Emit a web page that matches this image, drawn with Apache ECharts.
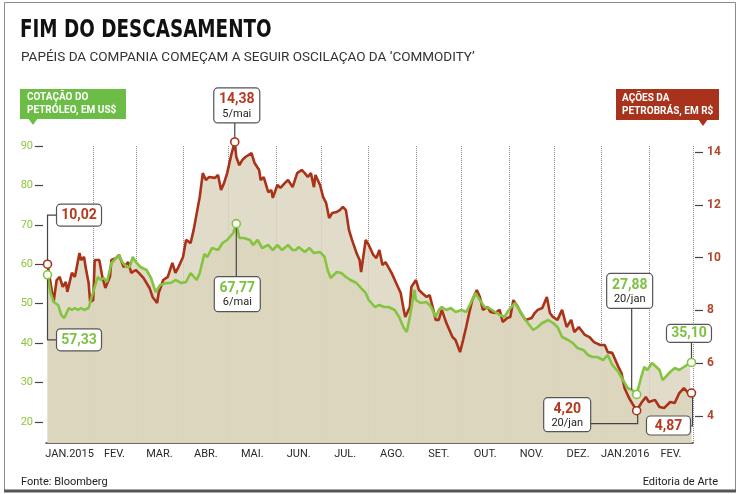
<!DOCTYPE html>
<html><head><meta charset="utf-8">
<script src="https://cdn.jsdelivr.net/npm/echarts@6/dist/echarts.min.js"></script>
<style>html,body{margin:0;padding:0;background:#fff}#c{width:740px;height:494px}</style>
</head><body><div id="c"></div>
<script>
const monthLabels = ['JAN.2015','FEV.','MAR.','ABR.','MAI.','JUN.','JUL.','AGO.','SET.','OUT.','NOV.','DEZ.','JAN.2016','FEV.'];
const leftTicks = [20,30,40,50,60,70,80,90];
const rightTicks = [4,6,8,10,12,14];

const petroDates = ['2015-01-02','2015-01-06','2015-01-08','2015-01-10','2015-01-12','2015-01-14','2015-01-15','2015-01-18','2015-01-20','2015-01-23','2015-01-24','2015-01-26','2015-01-27','2015-01-29','2015-01-30',
'2015-02-01','2015-02-02','2015-02-05','2015-02-07','2015-02-09','2015-02-12','2015-02-13','2015-02-16','2015-02-18','2015-02-21','2015-02-24','2015-02-26',
'2015-03-01','2015-03-03','2015-03-06','2015-03-10','2015-03-12','2015-03-15','2015-03-16','2015-03-19','2015-03-22','2015-03-25','2015-03-27','2015-03-29',
'2015-04-01','2015-04-03','2015-04-06','2015-04-08','2015-04-12','2015-04-14','2015-04-16','2015-04-18','2015-04-22','2015-04-24','2015-04-26','2015-04-28','2015-04-30',
'2015-05-03','2015-05-05','2015-05-06','2015-05-08','2015-05-10','2015-05-12','2015-05-16','2015-05-18','2015-05-21','2015-05-22','2015-05-24','2015-05-27','2015-05-29','2015-05-30',
'2015-06-02','2015-06-04','2015-06-07','2015-06-09','2015-06-12','2015-06-15','2015-06-18','2015-06-20','2015-06-22','2015-06-24','2015-06-26','2015-06-27','2015-06-30',
'2015-07-02','2015-07-04','2015-07-06','2015-07-08','2015-07-11','2015-07-13','2015-07-15','2015-07-17','2015-07-19','2015-07-21','2015-07-24','2015-07-26','2015-07-27','2015-07-30',
'2015-08-01','2015-08-04','2015-08-06','2015-08-08','2015-08-10','2015-08-12','2015-08-16','2015-08-19','2015-08-22','2015-08-24','2015-08-25','2015-08-28','2015-08-29',
'2015-09-01','2015-09-03','2015-09-05','2015-09-08','2015-09-10','2015-09-12','2015-09-14','2015-09-16','2015-09-18','2015-09-21','2015-09-23','2015-09-25','2015-09-27','2015-09-30',
'2015-10-02','2015-10-04','2015-10-06','2015-10-08','2015-10-11','2015-10-13','2015-10-15','2015-10-18','2015-10-20','2015-10-23','2015-10-26','2015-10-28','2015-10-31',
'2015-11-02','2015-11-04','2015-11-07','2015-11-09','2015-11-12','2015-11-16','2015-11-18','2015-11-20','2015-11-23','2015-11-26','2015-11-28','2015-11-30',
'2015-12-03','2015-12-06','2015-12-09','2015-12-12','2015-12-14','2015-12-17','2015-12-21','2015-12-24','2015-12-27','2015-12-31',
'2016-01-03','2016-01-05','2016-01-08','2016-01-12','2016-01-14','2016-01-16','2016-01-19','2016-01-21','2016-01-24','2016-01-27','2016-01-30',
'2016-02-01','2016-02-05','2016-02-08','2016-02-11','2016-02-15','2016-02-18','2016-02-21','2016-02-24','2016-02-27','2016-02-29'];
const petroValues = [9.75,8.32,9.15,9.27,8.89,9.08,8.70,9.42,9.27,10.17,9.91,10.02,9.64,9.04,8.32,
8.39,9.91,9.91,9.27,8.85,9.27,9.91,9.98,10.10,9.64,9.83,9.42,
9.53,9.42,9.23,8.85,8.51,8.28,8.66,9.15,9.27,9.80,9.42,9.64,
10.02,10.67,10.55,11.05,12.30,13.20,12.94,13.05,13.02,13.13,12.56,12.83,13.20,
13.96,14.38,13.81,13.50,13.70,13.81,13.96,13.58,13.32,12.94,13.05,12.48,12.56,12.26,
12.75,12.64,12.83,12.94,12.67,13.20,13.32,13.20,13.05,13.20,12.67,13.13,12.75,
12.30,12.07,11.50,11.69,11.73,11.80,11.92,11.80,11.05,10.67,10.17,9.91,9.45,10.67,
10.48,10.10,9.98,10.29,9.72,9.83,9.42,9.04,8.66,8.02,7.75,8.13,8.89,
9.15,8.77,8.66,8.51,8.58,8.13,7.64,7.64,8.02,7.52,7.26,6.99,6.88,6.42,
6.88,7.37,7.90,8.39,8.77,8.51,8.02,8.13,7.94,7.90,8.02,7.56,7.71,
7.75,8.39,8.13,7.90,7.64,7.71,7.90,8.02,8.09,8.51,7.90,7.75,
7.64,8.02,7.37,7.64,7.18,7.37,7.07,6.99,6.80,6.69,
6.69,6.42,6.39,5.86,5.63,5.06,4.68,4.49,4.20,4.49,4.72,
4.53,4.61,4.34,4.30,4.53,4.49,4.87,5.06,4.87,4.87];

const oilDates = ['2015-01-02','2015-01-04','2015-01-06','2015-01-09','2015-01-11','2015-01-13','2015-01-16','2015-01-18','2015-01-20','2015-01-22','2015-01-24','2015-01-26','2015-01-29','2015-01-31',
'2015-02-02','2015-02-04','2015-02-06','2015-02-08','2015-02-10','2015-02-13','2015-02-15','2015-02-18','2015-02-20','2015-02-23','2015-02-25','2015-02-27',
'2015-03-01','2015-03-04','2015-03-08','2015-03-11','2015-03-14','2015-03-17','2015-03-21','2015-03-24','2015-03-27','2015-03-31',
'2015-04-03','2015-04-06','2015-04-10','2015-04-12','2015-04-15','2015-04-17','2015-04-20','2015-04-24','2015-04-27','2015-04-30',
'2015-05-04','2015-05-06','2015-05-08','2015-05-11','2015-05-15','2015-05-17','2015-05-20','2015-05-23','2015-05-27','2015-05-30',
'2015-06-02','2015-06-05','2015-06-09','2015-06-12','2015-06-14','2015-06-16','2015-06-20','2015-06-23','2015-06-26','2015-06-30',
'2015-07-03','2015-07-05','2015-07-07','2015-07-11','2015-07-14','2015-07-17','2015-07-20','2015-07-24','2015-07-27','2015-07-30',
'2015-08-01','2015-08-05','2015-08-08','2015-08-11','2015-08-14','2015-08-18','2015-08-21','2015-08-24','2015-08-26','2015-08-28','2015-08-31',
'2015-09-01','2015-09-04','2015-09-08','2015-09-11','2015-09-14','2015-09-16','2015-09-18','2015-09-21','2015-09-24','2015-09-27',
'2015-10-01','2015-10-04','2015-10-07','2015-10-10','2015-10-13','2015-10-16','2015-10-19','2015-10-23','2015-10-26','2015-10-29',
'2015-11-01','2015-11-05','2015-11-08','2015-11-12','2015-11-17','2015-11-20','2015-11-23','2015-11-27','2015-11-30',
'2015-12-03','2015-12-06','2015-12-10','2015-12-13','2015-12-16','2015-12-20','2015-12-23','2015-12-26','2015-12-29',
'2016-01-02','2016-01-05','2016-01-08','2016-01-12','2016-01-15','2016-01-18','2016-01-21','2016-01-24','2016-01-27','2016-01-29','2016-01-31',
'2016-02-03','2016-02-06','2016-02-08','2016-02-10','2016-02-12','2016-02-15','2016-02-18','2016-02-21','2016-02-24','2016-02-28','2016-02-29'];
const oilValues = [57.33,52.72,50.43,49.67,47.14,46.38,48.91,48.40,48.91,48.40,48.91,48.40,48.91,51.70,
54.24,56.77,56.01,56.52,55.51,60.32,61.09,62.35,60.58,59.31,59.31,61.85,
60.58,59.31,58.55,56.52,52.97,54.74,55.25,55.25,56.01,55.25,
55.51,57.79,56.01,57.79,62.60,61.85,64.13,63.62,65.40,66.16,
67.93,70.30,66.67,66.67,66.16,64.89,66.16,64.13,64.89,63.62,
64.89,63.62,64.89,63.62,63.62,64.38,63.11,64.13,62.86,63.11,
61.85,58.55,56.52,58.04,57.79,56.77,56.01,55.25,53.98,52.72,
50.94,49.17,49.67,49.17,49.17,48.40,46.63,43.84,42.83,46.63,53.48,
50.94,50.18,50.43,49.17,46.63,48.40,49.17,48.40,48.91,47.90,
48.40,47.90,50.18,52.72,50.94,49.17,48.91,47.90,47.14,46.63,
48.40,50.18,48.40,45.87,43.33,44.09,45.11,45.87,45.11,
44.09,41.56,40.80,40.04,38.77,38.26,36.99,36.48,36.48,
35.72,36.99,34.46,32.68,30.65,28.62,28.12,27.00,31.41,33.95,33.19,
34.96,33.95,33.19,30.65,31.41,32.68,33.70,33.19,33.95,34.96,35.10];

const annotSeries = ['petro','oil','petro','oil','oil','oil','petro','petro'];
const annotDates = ['2015-01-02','2015-01-02','2015-05-05','2015-05-06','2016-01-24','2016-02-29','2016-01-24','2016-02-29'];
const annotTexts = ['10,02','57,33','14,38','67,77','27,88','35,10','4,20','4,87'];
const annotSubs = ['','','5/mai','6/mai','20/jan','','20/jan',''];

const RED = '#a93219', GREEN = '#84c441';
const FONT = "Roboto, 'Liberation Sans', sans-serif";

function d(s){ const p = s.split('-').map(Number); return Date.UTC(p[0], p[1]-1, p[2]); }
const monthStarts = [];
for (let i = 0; i <= 14; i++) monthStarts.push(Date.UTC(2015, i, 1));
const midMonths = [];
for (let i = 0; i < 14; i++) midMonths.push((monthStarts[i] + monthStarts[i+1]) / 2);

const petroData = petroDates.map((t, i) => [d(t), petroValues[i]]);
const oilData = oilDates.map((t, i) => [d(t), oilValues[i]]);

const chart = echarts.init(document.getElementById('c'), null, {renderer: 'canvas'});
const AREA = '#dbd4bd';
chart.setOption({
  animation: false,
  backgroundColor: '#fff',
  textStyle: {fontFamily: FONT},
  grid: {left: 46, right: 47, top: 146, bottom: 51, containLabel: false, outerBoundsMode: 'none'},
  xAxis: {
    type: 'value',
    min: monthStarts[0], max: monthStarts[14],
    axisLine: {show: true, onZero: false, lineStyle: {color: '#3a3a3a', width: 1.5}},
    axisTick: {show: false, customValues: monthStarts.slice(1)},
    splitLine: {show: true, lineStyle: {type: 'dotted', color: '#8a8a8a', width: 1}},
    axisLabel: {
      customValues: midMonths, color: '#2a2a2a', fontSize: 11, margin: 6,
      formatter: function (v) { const i = midMonths.indexOf(+v); return i >= 0 ? monthLabels[i] : ''; }
    }
  },
  yAxis: [
    {
      type: 'value', position: 'left', min: 14.67, max: 90, offset: 3,
      axisLine: {show: false},
      axisTick: {show: true, customValues: leftTicks, length: 8, lineStyle: {color: '#444', width: 1.2}},
      axisLabel: {customValues: leftTicks, color: '#8cc63f', fontSize: 11, margin: 10},
      splitLine: {show: false}
    },
    {
      type: 'value', position: 'right', min: 2.977, max: 14.227, offset: 2,
      axisLine: {show: false},
      axisTick: {show: true, customValues: rightTicks, length: 8, lineStyle: {color: '#444', width: 1.2}},
      axisLabel: {customValues: rightTicks, color: '#b0472a', fontSize: 12, fontWeight: 'bold', margin: 12},
      splitLine: {show: false}
    }
  ],
  series: [
    {type: 'line', name: 'petroArea', yAxisIndex: 1, data: petroData, showSymbol: false, clip: false, z: 1,
      lineStyle: {width: 0, opacity: 0}, areaStyle: {color: AREA, opacity: 0.82}},
    {type: 'line', name: 'oilArea', yAxisIndex: 0, data: oilData, showSymbol: false, clip: false, z: 1,
      lineStyle: {width: 0, opacity: 0}, areaStyle: {color: AREA, opacity: 0.82}},
    {type: 'line', name: 'petro', yAxisIndex: 1, data: petroData, showSymbol: false, clip: false, z: 3,
      lineStyle: {color: RED, width: 2.6}},
    {type: 'line', name: 'oil', yAxisIndex: 0, data: oilData, showSymbol: false, clip: false, z: 4,
      lineStyle: {color: GREEN, width: 2.6}}
  ]
});

// annotation layout (offsets relative to the data point, in pixels)
const annotLayout = [
  {bx: 9, by: -60, w: 45, h: 22, path: [[0,-4],[0,-49],[9,-49]]},
  {bx: 9, by: 54, w: 45, h: 22, path: [[0,4],[0,65],[9,65]]},
  {bx: -21, by: -54, w: 46, h: 35, path: [[0,-19],[0,-4]]},
  {bx: -22, by: 53, w: 46, h: 35, path: [[0,4],[0,53]]},
  {bx: -30, by: -121, w: 46, h: 35, path: [[-5,-86],[-5,-5]]},
  {bx: -25, by: -38, w: 45, h: 18, path: [[0,-20],[0,-4]]},
  {bx: -93, by: -13, w: 47, h: 34, path: [[-46,13],[1,13],[1,4]]},
  {bx: -45, by: 23, w: 44, h: 19, path: [[-1,33],[1,33],[1,4]]}
];

const g = [];
g.push({type: 'rect', shape: {x: 4.5, y: 2.5, width: 731, height: 488}, style: {fill: 'none', stroke: '#8a8a8a', lineWidth: 1}, z: 0});
g.push({type: 'line', shape: {x1: 4, y1: 491, x2: 736, y2: 491}, style: {stroke: '#555', lineWidth: 3}, z: 0});
g.push({type: 'text', x: 20, y: 31, scaleX: 0.85, style: {text: 'FIM DO DESCASAMENTO', fill: '#111', font: "bold 24px 'DejaVu Sans Condensed', 'Liberation Sans Narrow', sans-serif", verticalAlign: 'middle'}, z: 10});
g.push({type: 'text', x: 21, y: 57.5, style: {text: 'PAPÉIS DA COMPANIA COMEÇAM A SEGUIR OSCILAÇAO DA ‘COMMODITY’', fill: '#333', font: "13.5px " + FONT, verticalAlign: 'middle'}, z: 10});
g.push({type: 'rect', shape: {x: 20, y: 89, width: 106, height: 30}, style: {fill: '#6cbd45'}, z: 10});
g.push({type: 'polygon', shape: {points: [[28,118],[38,118],[33,125]]}, style: {fill: '#6cbd45'}, z: 10});
g.push({type: 'text', x: 27, y: 104, style: {text: 'COTAÇÃO DO\nPETRÓLEO, EM US$', fill: '#fff', font: "bold 10px " + FONT, lineHeight: 13, verticalAlign: 'middle'}, z: 11});
g.push({type: 'rect', shape: {x: 616, y: 89, width: 103, height: 31}, style: {fill: '#a8321c'}, z: 10});
g.push({type: 'polygon', shape: {points: [[698,119],[708,119],[703,126]]}, style: {fill: '#a8321c'}, z: 10});
g.push({type: 'text', x: 622, y: 104.5, style: {text: 'AÇÕES DA\nPETROBRÁS, EM R$', fill: '#fff', font: "bold 10px " + FONT, lineHeight: 13, verticalAlign: 'middle'}, z: 11});
g.push({type: 'text', x: 21, y: 482, style: {text: 'Fonte: Bloomberg', fill: '#222', font: "11px " + FONT, verticalAlign: 'middle'}, z: 10});
g.push({type: 'text', x: 718, y: 482, style: {text: 'Editoria de Arte', fill: '#222', font: "11px " + FONT, align: 'right', verticalAlign: 'middle'}, z: 10});

annotDates.forEach(function (ds, i) {
  const isOil = annotSeries[i] === 'oil';
  const dates = isOil ? oilDates : petroDates;
  const vals = isOil ? oilValues : petroValues;
  const v = vals[dates.indexOf(ds)];
  const p = chart.convertToPixel({xAxisIndex: 0, yAxisIndex: isOil ? 0 : 1}, [d(ds), v]);
  const L = annotLayout[i];
  const col = isOil ? '#7cc242' : '#b3391f';
  g.push({type: 'polyline', shape: {points: L.path.map(q => [p[0] + q[0], p[1] + q[1]])}, style: {stroke: '#444', lineWidth: 1.2, fill: 'none'}, z: 20});
  g.push({type: 'rect', shape: {x: p[0] + L.bx, y: p[1] + L.by, width: L.w, height: L.h, r: 4}, style: {fill: '#fff', stroke: '#555', lineWidth: 1.2}, z: 21});
  const cx = p[0] + L.bx + L.w / 2;
  if (annotSubs[i]) {
    g.push({type: 'text', x: cx, y: p[1] + L.by + 12, style: {text: annotTexts[i], fill: col, font: "bold 14px " + FONT, align: 'center', verticalAlign: 'middle'}, z: 22});
    g.push({type: 'text', x: cx, y: p[1] + L.by + 26, style: {text: annotSubs[i], fill: '#222', font: "11px " + FONT, align: 'center', verticalAlign: 'middle'}, z: 22});
  } else {
    g.push({type: 'text', x: cx, y: p[1] + L.by + L.h / 2 + 0.5, style: {text: annotTexts[i], fill: col, font: "bold 14px " + FONT, align: 'center', verticalAlign: 'middle'}, z: 22});
  }
  g.push({type: 'circle', shape: {cx: p[0], cy: p[1], r: 4}, style: {fill: '#fff', stroke: isOil ? GREEN : RED, lineWidth: 1.6}, z: 23});
});
chart.setOption({graphic: g});
</script>
</body></html>
